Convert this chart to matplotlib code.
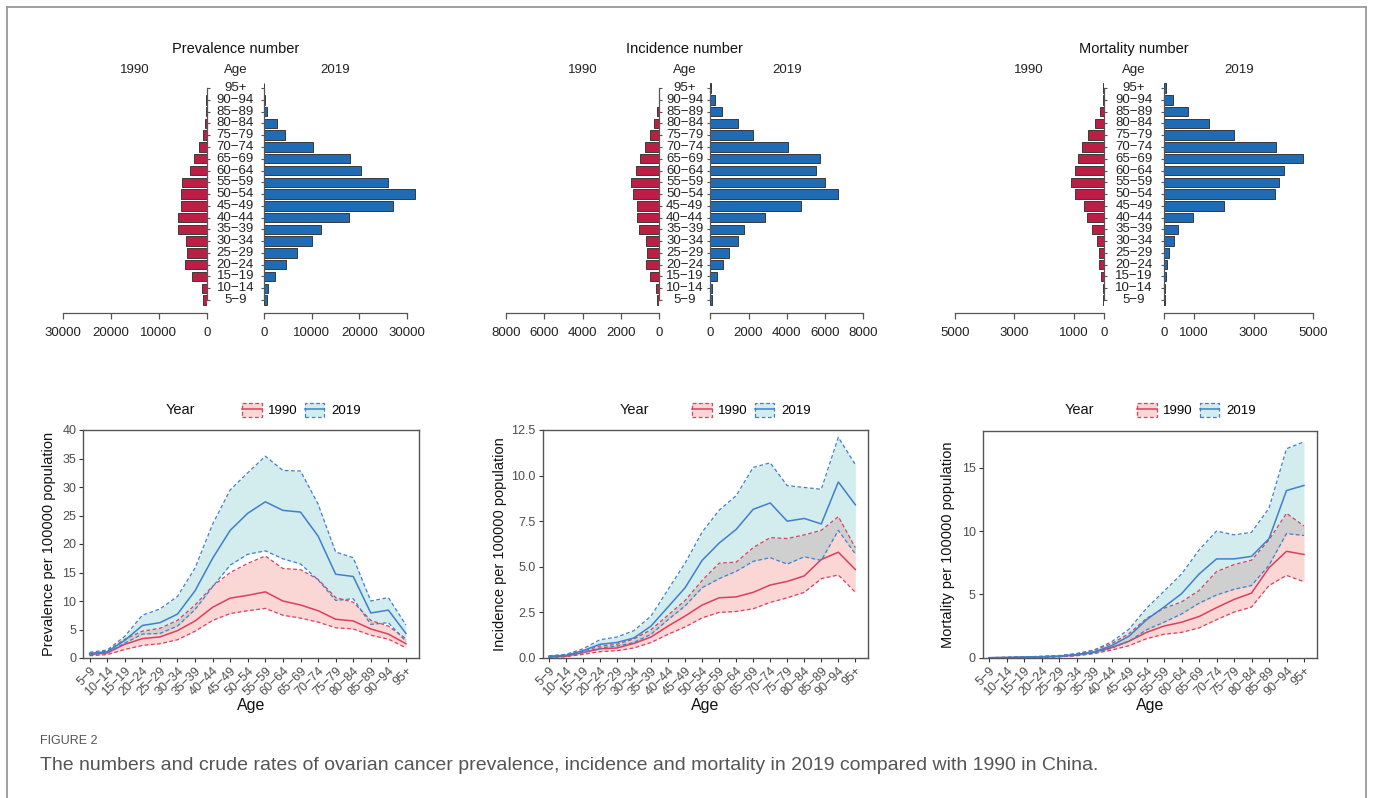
import numpy as np
import matplotlib.pyplot as plt
import matplotlib.transforms as mtransforms
from matplotlib.patches import Patch
from matplotlib.lines import Line2D
from matplotlib.legend_handler import HandlerTuple

plt.rcParams['font.family'] = ['Liberation Sans', 'DejaVu Sans']

W, H = 1373, 798

ages = ["5\u22129", "10\u221214", "15\u221219", "20\u221224", "25\u221229", "30\u221234",
        "35\u221239", "40\u221244", "45\u221249", "50\u221254", "55\u221259", "60\u221264",
        "65\u221269", "70\u221274", "75\u221279", "80\u221284", "85\u221289", "90\u221294", "95+"]

# case numbers (pyramids)
prev_num_1990 = [800, 1000, 3150, 4550, 4100, 4300, 6000, 6000, 5400, 5300, 5100,
                 3550, 2600, 1550, 850, 420, 200, 70, 20]
prev_num_2019 = [630, 770, 2380, 4600, 6850, 10000, 11900, 17900, 27100, 31700, 26000,
                 20300, 18000, 10300, 4400, 2650, 630, 210, 30]
inc_num_1990 = [120, 160, 470, 680, 630, 710, 1040, 1165, 1165, 1390, 1480,
                1200, 990, 765, 490, 260, 120, 35, 15]
inc_num_2019 = [105, 105, 330, 645, 960, 1460, 1780, 2860, 4720, 6670, 6010,
                5520, 5730, 4080, 2250, 1460, 630, 230, 35]
mort_num_1990 = [20, 35, 90, 160, 145, 235, 400, 560, 660, 950, 1100,
                 975, 870, 740, 515, 280, 125, 35, 10]
mort_num_2019 = [10, 15, 45, 90, 160, 325, 460, 960, 2010, 3720, 3840,
                 4015, 4660, 3750, 2340, 1510, 805, 290, 55]

# crude rates per 100000 (mean, lower, upper)
prev_1990 = [0.6, 0.9, 2.4, 3.4, 3.7, 4.8, 6.5, 8.9, 10.5, 11.0, 11.6, 10.0, 9.3, 8.3, 6.8, 6.5, 5.1, 4.2, 2.5]
prev_1990_lo = [0.4, 0.6, 1.5, 2.2, 2.5, 3.2, 4.7, 6.6, 7.8, 8.3, 8.7, 7.5, 7.0, 6.3, 5.3, 5.1, 4.0, 3.3, 1.8]
prev_1990_hi = [0.8, 1.2, 3.3, 4.7, 5.2, 6.6, 9.3, 12.6, 15.0, 16.6, 17.9, 15.7, 15.5, 13.8, 10.6, 9.8, 6.6, 5.6, 3.4]
prev_2019 = [0.8, 1.1, 3.1, 5.7, 6.2, 7.7, 11.8, 17.5, 22.4, 25.4, 27.4, 25.9, 25.6, 21.4, 14.7, 14.3, 7.9, 8.4, 4.3]
prev_2019_lo = [0.6, 0.9, 2.6, 4.2, 4.3, 5.6, 8.5, 12.5, 16.3, 18.2, 18.8, 17.4, 16.5, 13.7, 10.1, 10.4, 5.9, 6.2, 2.9]
prev_2019_hi = [1.0, 1.4, 3.8, 7.5, 8.6, 10.8, 15.8, 23.5, 29.5, 32.5, 35.4, 32.9, 32.8, 27.0, 18.6, 17.6, 10.0, 10.6, 5.8]

inc_1990 = [0.05, 0.1, 0.3, 0.5, 0.55, 0.8, 1.15, 1.75, 2.3, 2.9, 3.3, 3.35, 3.6, 4.0, 4.2, 4.5, 5.4, 5.8, 4.85]
inc_1990_lo = [0.03, 0.07, 0.2, 0.35, 0.4, 0.55, 0.85, 1.3, 1.7, 2.2, 2.5, 2.55, 2.7, 3.05, 3.3, 3.6, 4.35, 4.55, 3.6]
inc_1990_hi = [0.08, 0.13, 0.38, 0.65, 0.75, 1.05, 1.55, 2.35, 3.15, 4.25, 5.2, 5.25, 6.05, 6.6, 6.55, 6.75, 7.0, 7.75, 6.05]
inc_2019 = [0.1, 0.15, 0.4, 0.75, 0.85, 1.1, 1.75, 2.8, 3.85, 5.35, 6.3, 7.05, 8.15, 8.5, 7.5, 7.65, 7.35, 9.65, 8.4]
inc_2019_lo = [0.07, 0.12, 0.3, 0.55, 0.65, 0.85, 1.3, 2.1, 2.85, 3.85, 4.35, 4.75, 5.3, 5.5, 5.15, 5.55, 5.35, 7.0, 5.7]
inc_2019_hi = [0.12, 0.2, 0.5, 1.0, 1.15, 1.5, 2.3, 3.75, 5.2, 6.9, 8.1, 8.9, 10.45, 10.7, 9.45, 9.35, 9.25, 12.1, 10.6]

mort_1990 = [0.0, 0.01, 0.04, 0.07, 0.1, 0.22, 0.45, 0.8, 1.3, 2.0, 2.5, 2.8, 3.25, 3.95, 4.6, 5.1, 7.1, 8.4, 8.15]
mort_1990_lo = [0.0, 0.01, 0.03, 0.05, 0.07, 0.15, 0.33, 0.6, 0.95, 1.5, 1.85, 2.0, 2.35, 3.0, 3.6, 4.0, 5.7, 6.5, 6.0]
mort_1990_hi = [0.0, 0.02, 0.06, 0.1, 0.15, 0.3, 0.6, 1.1, 1.9, 3.1, 3.9, 4.4, 5.3, 6.8, 7.35, 7.7, 9.3, 11.4, 10.4]
mort_2019 = [0.0, 0.02, 0.05, 0.08, 0.12, 0.25, 0.45, 0.95, 1.7, 3.0, 4.0, 5.05, 6.6, 7.8, 7.8, 8.0, 9.4, 13.2, 13.6]
mort_2019_lo = [0.0, 0.01, 0.03, 0.05, 0.08, 0.18, 0.35, 0.75, 1.3, 2.2, 2.8, 3.45, 4.3, 4.95, 5.4, 5.7, 7.3, 9.8, 9.65]
mort_2019_hi = [0.0, 0.03, 0.07, 0.11, 0.17, 0.33, 0.6, 1.25, 2.25, 3.9, 5.25, 6.6, 8.5, 10.0, 9.7, 9.9, 11.8, 16.5, 17.05]

BAR_RED = "#BC1F43"
BAR_BLUE = "#1F6BB6"
LINE_RED = "#D7415F"
LINE_BLUE = "#3F80CC"
FILL_RED = "#F07A72"
FILL_BLUE = "#70C2C6"


def px_axes(fig, left, top, right, bottom):
    return fig.add_axes([left / W, 1 - bottom / H, (right - left) / W, (bottom - top) / H])


def pyramid(fig, title, v90, v19, lz, lmax, rz, rmax, tmax, ticks):
    top, bottom = 81, 313
    y = np.arange(len(ages))
    lim = tmax * 1.12
    sl = (lz - lmax) / tmax
    sr = (rmax - rz) / tmax
    axl = px_axes(fig, lz - lim * sl, top, lz, bottom)
    axr = px_axes(fig, rz, top, rz + lim * sr, bottom)
    for ax, vals, col, side in ((axl, v90, BAR_RED, 'right'), (axr, v19, BAR_BLUE, 'left')):
        ax.barh(y, vals, height=0.8, color=col, edgecolor='#3a3a3a', linewidth=0.7)
        ax.set_ylim(-1.1, 18.6)
        ax.set_facecolor('none')
        for s in ('top', 'left', 'right'):
            ax.spines[s].set_visible(False)
        ax.spines[side].set_visible(True)
        ax.spines[side].set_bounds(0, 18)
        ax.spines['bottom'].set_bounds(0, tmax)
        for s in ('bottom', side):
            ax.spines[s].set_color('#555555')
            ax.spines[s].set_linewidth(0.9)
        ax.set_xticks(ticks)
        ax.set_xticklabels([str(t) for t in ticks])
        ax.tick_params(axis='x', length=4.3, width=0.9, color='#555555', labelsize=9.5,
                       labelcolor='#222222', pad=6)
        ax.set_yticks(y)
        ax.set_yticklabels([])
        ax.tick_params(axis='y', length=2.5, width=0.8, color='#555555')
    axl.set_xlim(lim, 0)
    axr.set_xlim(0, lim)
    axl.yaxis.tick_right()
    axr.yaxis.tick_left()
    cx = (lz + rz) / 2
    tr = mtransforms.blended_transform_factory(fig.transFigure, axl.transData)
    for i, a in enumerate(ages):
        axl.text(cx / W, i, a, transform=tr, ha='center', va='center', fontsize=9.5,
                 color='#222222', clip_on=False)
    fig.text(cx / W, 1 - 49 / H, title, ha='center', va='center', fontsize=10.5, color='#111111')
    fig.text(cx / W, 1 - 70 / H, "Age", ha='center', va='center', fontsize=9.5, color='#222222')
    fig.text((lz + lmax) / 2 / W, 1 - 70 / H, "1990", ha='center', va='center',
             fontsize=9.5, color='#222222')
    fig.text((rz + rmax) / 2 / W, 1 - 70 / H, "2019", ha='center', va='center',
             fontsize=9.5, color='#222222')


def rate_panel(fig, box, d90, d19, ymax, yticks, ylabels, ylabel, legend_x, year_x, ylab_x):
    ax = px_axes(fig, *box)
    x = np.arange(len(ages))
    for (m, lo, hi), fc in ((d90, FILL_RED), (d19, FILL_BLUE)):
        ax.fill_between(x, lo, hi, color=fc, alpha=0.3, linewidth=0)
    for (m, lo, hi), lc in ((d90, LINE_RED), (d19, LINE_BLUE)):
        ax.plot(x, lo, color=lc, lw=0.9, linestyle=(0, (3, 2)))
        ax.plot(x, hi, color=lc, lw=0.9, linestyle=(0, (3, 2)))
        ax.plot(x, m, color=lc, lw=1.1)
    ax.set_xlim(-0.36, 18.76)
    ax.set_ylim(0, ymax)
    ax.set_yticks(yticks)
    ax.set_yticklabels(ylabels)
    ax.set_xticks(x)
    ax.set_xticklabels(ages, rotation=45, ha='right', rotation_mode='anchor')
    ax.tick_params(axis='both', length=3, width=0.8, color='#333333', labelsize=9,
                   labelcolor='#4D4D4D', pad=2)
    for s in ax.spines.values():
        s.set_color('#555555')
        s.set_linewidth(1.0)
    ax.set_xlabel("Age", fontsize=11.5, color='#111111', labelpad=0)
    ax.yaxis.set_label_coords(((ylab_x - box[0]) / (box[2] - box[0])), 0.5)
    ax.set_ylabel(ylabel, fontsize=10.5, color='#111111')

    handles = []
    for lc, fc in ((LINE_RED, FILL_RED), (LINE_BLUE, FILL_BLUE)):
        p = Patch(facecolor=fc, alpha=0.3, edgecolor='none')
        p2 = Patch(facecolor='none', edgecolor=lc, linestyle=(0, (3, 2)), linewidth=0.9)
        ln = Line2D([0], [0], color=lc, lw=1.1)
        handles.append((p, p2, ln))
    ax.legend(handles, ["1990", "2019"], ncol=2, loc='center left',
              bbox_to_anchor=(legend_x / W, 1 - 410 / H), bbox_transform=fig.transFigure,
              frameon=False, fontsize=9.5, handlelength=1.5, handleheight=1.3,
              handletextpad=0.5, columnspacing=0.5, borderpad=0, borderaxespad=0,
              handler_map={tuple: HandlerTuple(ndivide=1, pad=0)})
    fig.text(year_x / W, 1 - 410 / H, "Year", ha='center', va='center', fontsize=10.5,
             color='#111111')
    return ax


fig = plt.figure(figsize=(W / 100, H / 100), dpi=100)

pyramid(fig, "Prevalence number", prev_num_1990, prev_num_2019,
        206.7, 63.3, 264.0, 407.0, 30000, [0, 10000, 20000, 30000])
pyramid(fig, "Incidence number", inc_num_1990, inc_num_2019,
        659.3, 506.0, 710.3, 863.3, 8000, [0, 2000, 4000, 6000, 8000])
pyramid(fig, "Mortality number", mort_num_1990, mort_num_2019,
        1103.7, 954.7, 1164.3, 1313.3, 5000, [0, 1000, 3000, 5000])

rate_panel(fig, (83.3, 430, 419.3, 658),
           (prev_1990, prev_1990_lo, prev_1990_hi), (prev_2019, prev_2019_lo, prev_2019_hi),
           40, [0, 5, 10, 15, 20, 25, 30, 35, 40], [str(v) for v in range(0, 41, 5)],
           "Prevalence per 100000 population", 242, 180, 56)
rate_panel(fig, (542.7, 430, 868.3, 658),
           (inc_1990, inc_1990_lo, inc_1990_hi), (inc_2019, inc_2019_lo, inc_2019_hi),
           12.5, [0, 2.5, 5, 7.5, 10, 12.5], ["0.0", "2.5", "5.0", "7.5", "10.0", "12.5"],
           "Incidence per 100000 population", 692, 634, 507)
rate_panel(fig, (982.7, 431, 1317.3, 657.7),
           (mort_1990, mort_1990_lo, mort_1990_hi), (mort_2019, mort_2019_lo, mort_2019_hi),
           17.9, [0, 5, 10, 15], ["0", "5", "10", "15"],
           "Mortality per 100000 population", 1137, 1079, 955)

# page frame and caption
fr = dict(transform=fig.transFigure, color='#9a9a9a', lw=1.3)
fig.add_artist(Line2D([7 / W, 7 / W], [0, 1 - 7 / H], **fr))
fig.add_artist(Line2D([7 / W, 1366 / W], [1 - 7 / H, 1 - 7 / H], **fr))
fig.add_artist(Line2D([1366 / W, 1366 / W], [0, 1 - 7 / H], **fr))

fig.text(40 / W, 1 - 741 / H, "FIGURE 2", ha='left', va='center', fontsize=9,
         color='#555555')
fig.text(40 / W, 1 - 766 / H,
         "The numbers and crude rates of ovarian cancer prevalence, incidence and mortality "
         "in 2019 compared with 1990 in China.",
         ha='left', va='center', fontsize=14, color='#555555')

fig.savefig("out.png", dpi=100)
